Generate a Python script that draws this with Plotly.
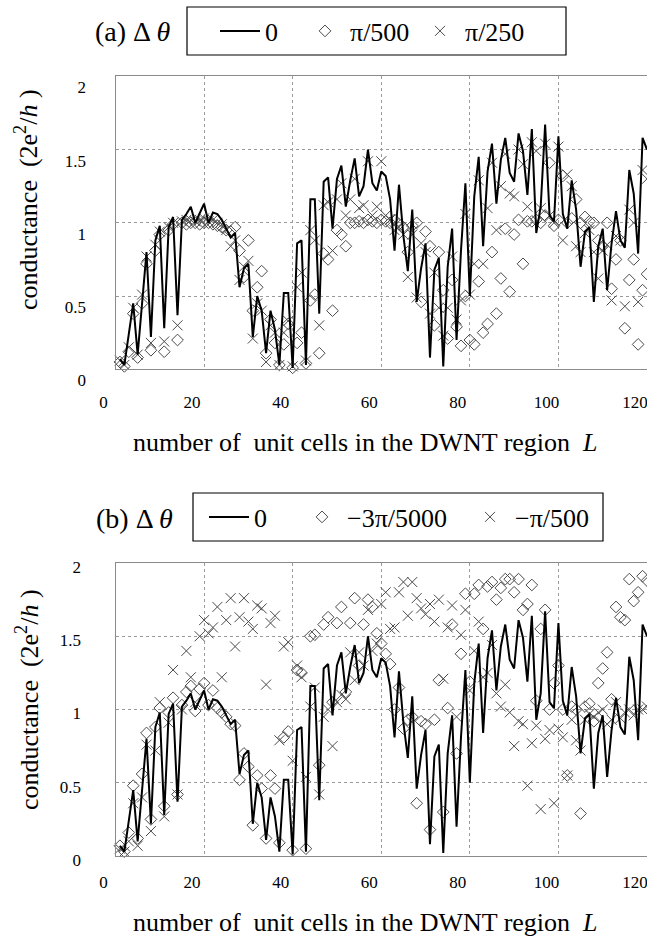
import plotly.graph_objects as go

W, H = 647, 939

L = list(range(1, 121))

# conductance for delta theta = 0 (same curve in both panels)
g_zero = [0.07, 0.03, 0.24, 0.45, 0.10, 0.45, 0.80, 0.22, 0.88, 0.98,
          0.28, 0.97, 1.04, 0.37, 1.02, 1.06, 1.11, 1.00, 1.07, 1.13,
          1.00, 1.07, 1.06, 1.02, 0.96, 0.90, 0.93, 0.56, 0.69, 0.72,
          0.22, 0.50, 0.40, 0.11, 0.40, 0.27, 0.03, 0.52, 0.52, 0.01,
          0.86, 0.88, 0.03, 1.16, 1.16, 0.38, 1.28, 1.31, 0.96, 1.30,
          1.39, 1.11, 1.29, 1.44, 1.18, 1.25, 1.50, 1.27, 1.22, 1.35,
          1.32, 1.16, 0.81, 1.26, 0.91, 0.67, 1.09, 0.46, 0.69, 0.86,
          0.08, 0.68, 0.76, 0.02, 0.70, 0.96, 0.20, 0.81, 1.27, 0.50,
          1.18, 1.45, 0.84, 1.35, 1.54, 1.13, 1.43, 1.58, 1.34, 1.28,
          1.61, 1.49, 1.19, 1.64, 0.93, 1.11, 1.67, 1.05, 1.01, 1.59,
          1.06, 0.96, 1.29, 1.09, 0.70, 0.94, 0.97, 0.46, 0.84, 0.96,
          0.54, 0.86, 1.08, 0.88, 0.83, 1.36, 1.20, 0.79, 1.58, 1.50]

# panel (a): delta theta = pi/500
g_a_pi500 = [0.05, 0.02, 0.12, 0.38, 0.08, 0.45, 0.72, 0.13, 0.81, 0.92,
             0.12, 0.95, 0.99, 0.20, 1.00, 0.99, 1.00, 1.00, 0.99, 1.00,
             1.00, 0.99, 0.98, 0.97, 0.95, 0.94, 0.97, 0.81, 0.63, 0.88,
             0.40, 0.56, 0.67, 0.11, 0.34, 0.18, 0.03, 0.17, 0.31, 0.01,
             0.18, 0.25, 0.04, 0.47, 0.51, 0.11, 0.79, 0.75, 0.40, 0.95,
             0.92, 0.84, 1.00, 1.00, 1.01, 1.00, 1.02, 1.01, 1.00, 1.02,
             1.01, 1.00, 1.02, 0.99, 0.97, 0.80, 0.98, 1.00, 0.46, 0.94,
             0.84, 0.30, 0.80, 0.54, 0.21, 0.61, 0.29, 0.16, 0.50, 0.20,
             0.17, 0.60, 0.25, 0.31, 0.80, 0.38, 0.62, 0.96, 0.53, 0.92,
             1.02, 0.72, 1.01, 1.01, 1.02, 1.00, 1.05, 1.41, 0.98, 1.02,
             1.32, 1.00, 1.03, 1.16, 1.00, 1.04, 1.01, 1.00, 0.88, 0.84,
             1.00, 0.55, 0.75, 0.88, 0.28, 0.61, 0.75, 0.17, 0.54, 0.65]

# panel (a): delta theta = pi/250
g_a_pi250 = [0.06, 0.03, 0.15, 0.42, 0.10, 0.51, 0.77, 0.18, 0.85, 0.94,
             0.19, 0.97, 1.00, 0.30, 1.01, 1.02, 1.02, 1.01, 1.02, 1.03,
             1.01, 1.02, 1.00, 0.99, 0.95, 0.84, 0.88, 0.61, 0.70, 0.74,
             0.21, 0.45, 0.40, 0.05, 0.30, 0.25, 0.03, 0.25, 0.33, 0.02,
             0.56, 0.66, 0.06, 0.95, 0.88, 0.30, 1.12, 1.14, 0.81, 1.16,
             1.27, 1.05, 1.16, 1.30, 1.10, 1.12, 1.42, 1.05, 1.11, 1.42,
             1.05, 1.02, 0.95, 0.97, 0.92, 0.63, 0.92, 0.49, 0.86, 0.80,
             0.38, 0.66, 0.42, 0.23, 0.42, 0.77, 0.34, 0.47, 1.06, 0.51,
             0.72, 1.29, 0.72, 1.10, 1.41, 0.95, 1.25, 1.47, 1.20, 1.18,
             1.50, 1.40, 1.11, 1.55, 1.49, 1.10, 1.54, 1.05, 1.00, 1.52,
             0.88, 1.33, 1.25, 0.84, 0.80, 0.93, 0.95, 0.80, 0.62, 0.81,
             0.85, 0.47, 0.91, 0.88, 0.43, 1.09, 1.00, 0.46, 1.36, 1.30]

# panel (b): delta theta = -3pi/5000
g_b_3pi5000 = [0.07, 0.03, 0.16, 0.48, 0.12, 0.56, 0.84, 0.25, 0.88, 1.01,
               0.34, 0.98, 1.08, 0.42, 1.03, 1.12, 1.16, 0.99, 1.14, 1.18,
               1.03, 1.13, 1.01, 0.98, 0.95, 0.90, 0.89, 0.52, 0.70, 0.61,
               0.21, 0.55, 0.46, 0.12, 0.55, 0.46, 0.09, 0.81, 0.85, 0.04,
               1.27, 1.25, 0.05, 1.50, 1.51, 0.62, 1.58, 1.63, 1.05, 1.59,
               1.70, 1.12, 1.59, 1.76, 1.30, 1.58, 1.75, 1.70, 1.52, 1.45,
               1.38, 1.31, 1.00, 1.15, 0.87, 0.93, 0.95, 0.36, 0.92, 0.90,
               0.18, 0.93, 1.20, 0.30, 1.01, 1.58, 0.70, 1.38, 1.79, 1.19,
               1.79, 1.85, 1.55, 1.84, 1.87, 1.75, 1.83, 1.89, 1.89, 1.80,
               1.89, 1.68, 1.72, 1.85, 1.06, 1.55, 1.68, 1.00, 1.18, 1.30,
               1.00, 0.55, 1.02, 1.00, 0.29, 1.02, 1.04, 0.92, 1.18, 1.28,
               1.39, 1.07, 1.70, 1.63, 1.61, 1.89, 1.74, 1.80, 1.91, 1.88]

# panel (b): delta theta = -pi/500
g_b_pi500 = [0.05, 0.03, 0.10, 0.36, 0.07, 0.40, 0.76, 0.17, 0.72, 1.05,
             0.27, 0.91, 1.27, 0.42, 1.00, 1.40, 1.22, 1.05, 1.50, 1.61,
             1.52, 1.56, 1.70, 1.22, 1.61, 1.76, 1.43, 1.63, 1.76, 1.60,
             1.55, 1.71, 1.69, 1.17, 1.59, 1.64, 0.79, 1.43, 1.46, 0.65,
             1.30, 1.22, 0.54, 1.02, 1.15, 0.42, 0.95, 1.00, 0.75, 1.05,
             1.10, 1.07, 1.39, 1.20, 1.39, 1.30, 1.68, 1.40, 1.45, 1.72,
             1.80, 1.55, 1.56, 1.80, 1.87, 1.64, 1.87, 1.76, 1.69, 1.65,
             1.72, 1.60, 1.75, 1.21, 1.56, 1.71, 0.95, 1.51, 1.68, 1.13,
             1.40, 1.60, 1.22, 1.25, 1.44, 1.11, 1.02, 1.17, 0.98, 0.75,
             0.92, 0.90, 0.48, 0.77, 0.89, 0.32, 0.80, 0.86, 0.36, 0.87,
             0.81, 0.55, 0.93, 0.79, 0.72, 0.93, 0.97, 0.95, 0.98, 1.00,
             0.90, 0.93, 1.05, 0.94, 0.98, 1.00, 0.96, 1.00, 1.00, 1.02]

x_ticks = [0, 20, 40, 60, 80, 100, 120]
x_ticktext = ["0", "20", "40", "60", "80", "100", "120"]
y_ticks = [0, 0.5, 1, 1.5, 2]
y_ticktext = ["0", "0.5", "1", "1.5", "2"]

names_a = ["0", "\u03c0/500", "\u03c0/250"]
names_b = ["0", "\u22123\u03c0/5000", "\u2212\u03c0/500"]

FONT = "Liberation Serif, Times New Roman, serif"
MARK = "#4a4a4a"


def px_x(p):
    return p / W


def px_y(p):
    return 1 - p / H


fig = go.Figure()


def add_panel(xa, ya, legs, d_vals, x_vals, names):
    fig.add_trace(go.Scatter(x=L, y=d_vals, mode="markers", name=names[1],
                             xaxis=xa, yaxis=ya, legend=legs[1], cliponaxis=False,
                             marker=dict(symbol="diamond-open", size=9, color=MARK,
                                         line=dict(width=1, color=MARK))))
    fig.add_trace(go.Scatter(x=L, y=x_vals, mode="markers", name=names[2],
                             xaxis=xa, yaxis=ya, legend=legs[2], cliponaxis=False,
                             marker=dict(symbol="x-thin-open", size=10, color=MARK,
                                         line=dict(width=1, color=MARK))))
    fig.add_trace(go.Scatter(x=L, y=g_zero, mode="lines", name=names[0],
                             xaxis=xa, yaxis=ya, legend=legs[0], cliponaxis=False,
                             line=dict(color="black", width=2)))


add_panel("x", "y", ["legend", "legend2", "legend3"], g_a_pi500, g_a_pi250, names_a)
add_panel("x2", "y2", ["legend4", "legend5", "legend6"], g_b_3pi5000, g_b_pi500, names_b)

x_dom = [px_x(115.5), 1.0]
ya_dom = [px_y(369.3), px_y(76.3)]
yb_dom = [px_y(856.0), px_y(563.0)]


def xaxis_cfg(anchor, standoff):
    return dict(domain=x_dom, anchor=anchor, range=[0, 120], automargin=False,
                tickvals=x_ticks, ticktext=x_ticktext, ticks="",
                ticklabeloverflow="allow",
                showgrid=True, gridcolor="#9a9a9a", griddash="dot", gridwidth=1,
                zeroline=False, showline=True, linecolor="#8a8a8a", linewidth=1,
                mirror=True, tickfont=dict(family=FONT, size=17, color="black"),
                ticklabelshift=-12, ticklabelstandoff=standoff)


def yaxis_cfg(anchor, dom, standoff, shift):
    return dict(domain=dom, anchor=anchor, range=[0, 2], automargin=False,
                tickvals=y_ticks, ticktext=y_ticktext, ticks="",
                ticklabeloverflow="allow",
                showgrid=True, gridcolor="#9a9a9a", griddash="dot", gridwidth=1,
                zeroline=False, showline=True, linecolor="#8a8a8a", linewidth=1,
                tickfont=dict(family=FONT, size=17, color="black"),
                ticklabelshift=shift, ticklabelstandoff=standoff)


def leg(xpx, ypx):
    return dict(orientation="h", bgcolor="rgba(0,0,0,0)", borderwidth=0,
                font=dict(family=FONT, size=26, color="black"),
                xanchor="left", yanchor="middle", itemwidth=40,
                x=px_x(xpx), y=px_y(ypx))


def ann(text, xpx, ypx, size, angle=0):
    return dict(text=text, x=px_x(xpx), y=px_y(ypx), xref="paper", yref="paper",
                xanchor="center", yanchor="middle", showarrow=False, textangle=angle,
                font=dict(family=FONT, size=size, color="black"))


xtitle = "number of  unit cells in the DWNT region  <i>L</i>"
ytitle = "conductance  (2e<sup>2</sup>/<i>h</i> )"

fig.update_layout(
    width=W, height=H,
    margin=dict(l=0, r=0, t=0, b=0, autoexpand=False),
    paper_bgcolor="white", plot_bgcolor="white",
    showlegend=True,
    xaxis=xaxis_cfg("y", 17),
    yaxis=yaxis_cfg("x", ya_dom, 25, 11),
    xaxis2=xaxis_cfg("y2", 11),
    yaxis2=yaxis_cfg("x2", yb_dom, 30, 4),
    legend=leg(215, 31), legend2=leg(300, 31), legend3=leg(415, 31),
    legend4=leg(204, 517), legend5=leg(297, 517), legend6=leg(465, 517),
    shapes=[
        dict(type="rect", xref="paper", yref="paper",
             x0=px_x(187), x1=px_x(566), y0=px_y(55), y1=px_y(7),
             line=dict(color="black", width=1.2)),
        dict(type="rect", xref="paper", yref="paper",
             x0=px_x(193), x1=px_x(603), y0=px_y(541), y1=px_y(493),
             line=dict(color="black", width=1.2)),
    ],
    annotations=[
        ann("(a) \u0394 <i>\u03b8</i>", 133, 31, 28),
        ann("(b) \u0394 <i>\u03b8</i>", 134, 518, 28),
        ann(ytitle, 27, 200, 26, -90),
        ann(ytitle, 27, 700, 26, -90),
        ann(xtitle, 365, 442, 26),
        ann(xtitle, 365, 922, 26),
    ],
)

fig.write_html("out.html", post_script="document.body.style.margin='0px';")
